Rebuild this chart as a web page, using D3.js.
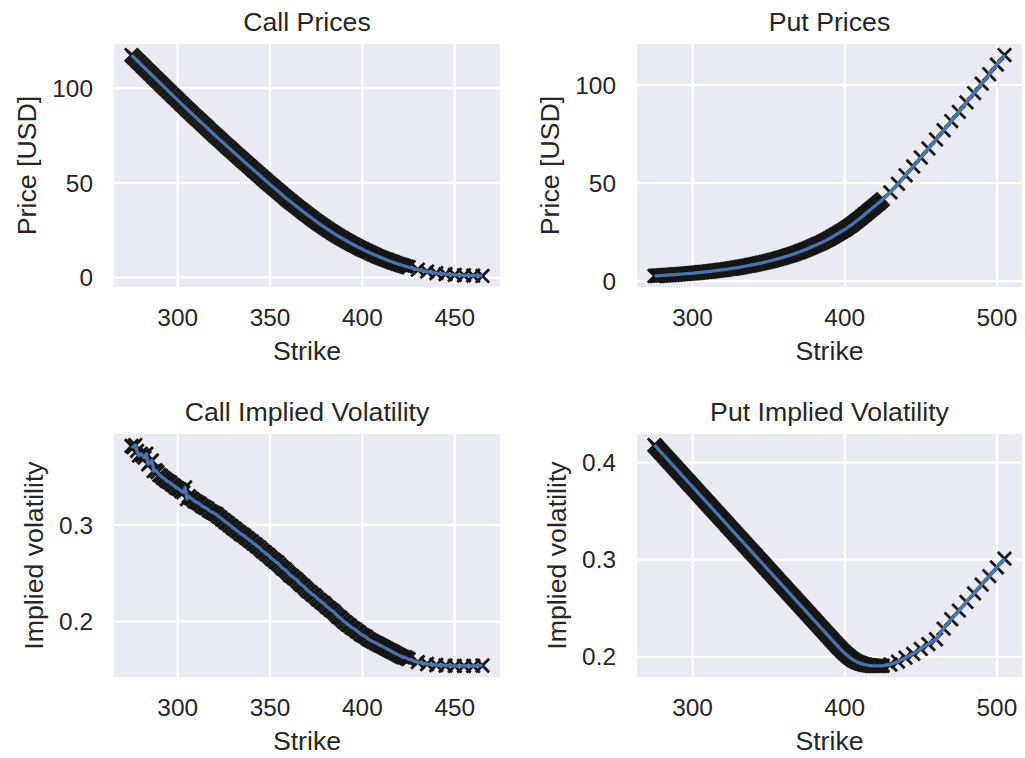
<!DOCTYPE html>
<html>
<head>
<meta charset="utf-8">
<script src="https://cdn.jsdelivr.net/npm/d3@7"></script>
<style>
  body { margin: 0; background: #fff; }
  text { font-family: "Liberation Sans", Arial, sans-serif; fill: #262626; }
</style>
</head>
<body>
<svg id="chart"></svg>
<script>
const width = 1025;
const height = 758;

// strikes: dense every 1 up to 425, then every 5
const denseStrikes = [
  275,276,277,278,279,280,281,282,283,284,285,286,287,288,289,290,291,292,293,294,
  295,296,297,298,299,300,301,302,303,304,305,306,307,308,309,310,311,312,313,314,
  315,316,317,318,319,320,321,322,323,324,325,326,327,328,329,330,331,332,333,334,
  335,336,337,338,339,340,341,342,343,344,345,346,347,348,349,350,351,352,353,354,
  355,356,357,358,359,360,361,362,363,364,365,366,367,368,369,370,371,372,373,374,
  375,376,377,378,379,380,381,382,383,384,385,386,387,388,389,390,391,392,393,394,
  395,396,397,398,399,400,401,402,403,404,405,406,407,408,409,410,411,412,413,414,
  415,416,417,418,419,420,421,422,423,424,425];
const callTailStrikes = [430,435,440,445,450,455,460,465];
const putTailStrikes = [430,435,440,445,450,455,460,465,470,475,480,485,490,495,500,505];

const callStrikes = denseStrikes.concat(callTailStrikes);
const putStrikes = denseStrikes.concat(putTailStrikes);

// call prices [USD]
const callPrice = [
  117.5,116.5,115.6,114.6,113.7, 112.7,111.7,110.8,109.8,108.9,
  107.9,107.0,106.0,105.1,104.1, 103.2,102.2,101.3,100.3,99.4,
  98.4,97.5,96.5,95.6,94.6, 93.7,92.8,91.8,90.9,89.9,
  89.0,88.1,87.2,86.2,85.3, 84.4,83.5,82.6,81.7,80.8,
  79.9,79.0,78.0,77.1,76.2, 75.3,74.4,73.5,72.7,71.8,
  70.9,70.0,69.1,68.3,67.4, 66.5,65.6,64.7,63.9,63.0,
  62.1,61.2,60.4,59.5,58.7, 57.8,56.9,56.1,55.2,54.4,
  53.5,52.6,51.8,50.9,50.1, 49.2,48.4,47.6,46.7,45.9,
  45.1,44.3,43.4,42.6,41.8, 41.0,40.2,39.4,38.7,37.9,
  37.1,36.3,35.6,34.8,34.1, 33.3,32.6,31.9,31.1,30.4,
  29.7,29.0,28.3,27.6,27.0, 26.3,25.7,25.0,24.4,23.7,
  23.1,22.5,21.9,21.3,20.8, 20.2,19.7,19.1,18.6,18.0,
  17.5,17.0,16.5,16.0,15.5, 15.0,14.5,14.1,13.6,13.2,
  12.7,12.3,11.9,11.4,11.0, 10.6,10.2,9.8,9.5,9.1,
  8.7,8.4,8.0,7.7,7.3, 7.0,6.7,6.4,6.1,5.8,
  5.5,
  4.2,3.2,2.4,1.9,1.5,1.25,1.05,0.9];

// put prices [USD]
const putPrice = [
  2.6,2.65,2.7,2.75,2.8, 2.85,2.9,2.95,3.0,3.05,
  3.1,3.16,3.22,3.28,3.34, 3.4,3.46,3.52,3.58,3.64,
  3.7,3.76,3.82,3.88,3.94, 4.0,4.08,4.16,4.24,4.32,
  4.4,4.48,4.56,4.64,4.72, 4.8,4.89,4.98,5.07,5.16,
  5.25,5.35,5.45,5.55,5.65, 5.75,5.86,5.97,6.08,6.19,
  6.3,6.42,6.54,6.66,6.78, 6.9,7.04,7.18,7.32,7.46,
  7.6,7.75,7.9,8.05,8.2, 8.35,8.52,8.69,8.86,9.03,
  9.2,9.38,9.56,9.74,9.92, 10.1,10.3,10.5,10.7,10.9,
  11.1,11.32,11.54,11.76,11.98, 12.2,12.44,12.68,12.92,13.16,
  13.4,13.68,13.96,14.24,14.52, 14.8,15.1,15.4,15.7,16.0,
  16.3,16.64,16.98,17.32,17.66, 18.0,18.34,18.68,19.02,19.36,
  19.7,20.1,20.5,20.9,21.3, 21.7,22.16,22.62,23.08,23.54,
  24.0,24.46,24.92,25.38,25.84, 26.3,26.84,27.38,27.92,28.46,
  29.0,29.6,30.2,30.8,31.4, 32.0,32.64,33.28,33.92,34.56,
  35.2,35.84,36.48,37.12,37.76, 38.4,39.06,39.72,40.38,41.04,
  41.7,
  45.3,49.6,54.0,58.5,63.1,67.7,72.3,77.0,81.7,86.4,91.2,96.0,100.8,105.6,110.5,115.4];

// call implied volatility
const callIV = [
  0.382,0.381,0.383,0.377,0.372, 0.374,0.372,0.370,0.374,0.363,
  0.365,0.367,0.356,0.357,0.355, 0.352,0.351,0.349,0.348,0.346,
  0.345,0.344,0.342,0.341,0.339, 0.338,0.337,0.335,0.334,0.339,
  0.327,0.330,0.328,0.327,0.325, 0.324,0.323,0.322,0.320,0.319,
  0.318,0.317,0.315,0.314,0.313, 0.312,0.311,0.309,0.308,0.306,
  0.305,0.303,0.302,0.300,0.299, 0.297,0.296,0.294,0.293,0.291,
  0.290,0.289,0.287,0.286,0.284, 0.283,0.281,0.280,0.278,0.277,
  0.275,0.273,0.272,0.270,0.269, 0.267,0.265,0.264,0.262,0.261,
  0.259,0.257,0.255,0.254,0.252, 0.250,0.248,0.247,0.245,0.244,
  0.242,0.240,0.238,0.237,0.235, 0.233,0.231,0.230,0.228,0.227,
  0.225,0.223,0.222,0.220,0.219, 0.217,0.215,0.214,0.212,0.211,
  0.209,0.207,0.205,0.204,0.202, 0.200,0.199,0.197,0.196,0.194,
  0.193,0.192,0.190,0.189,0.187, 0.186,0.185,0.184,0.182,0.181,
  0.180,0.179,0.178,0.177,0.176, 0.175,0.174,0.173,0.172,0.171,
  0.170,0.169,0.168,0.167,0.166, 0.165,0.164,0.163,0.163,0.162,
  0.161,
  0.158,0.156,0.155,0.1545,0.154,0.154,0.154,0.1545];

// put implied volatility
const putIV = [
  0.4180,0.4163,0.4146,0.4128,0.4111, 0.4094,0.4077,0.4060,0.4042,0.4025,
  0.4008,0.3991,0.3974,0.3956,0.3939, 0.3922,0.3905,0.3888,0.3870,0.3853,
  0.3836,0.3819,0.3802,0.3784,0.3767, 0.3750,0.3733,0.3716,0.3698,0.3681,
  0.3664,0.3647,0.3630,0.3612,0.3595, 0.3578,0.3561,0.3544,0.3526,0.3509,
  0.3492,0.3475,0.3458,0.3440,0.3423, 0.3406,0.3389,0.3372,0.3354,0.3337,
  0.3320,0.3303,0.3286,0.3268,0.3251, 0.3234,0.3217,0.3200,0.3182,0.3165,
  0.3148,0.3131,0.3114,0.3096,0.3079, 0.3062,0.3045,0.3028,0.3010,0.2993,
  0.2976,0.2959,0.2942,0.2924,0.2907, 0.2890,0.2873,0.2856,0.2838,0.2821,
  0.2804,0.2787,0.2770,0.2752,0.2735, 0.2718,0.2701,0.2684,0.2666,0.2649,
  0.2632,0.2615,0.2598,0.2580,0.2563, 0.2546,0.2529,0.2512,0.2494,0.2477,
  0.2460,0.2443,0.2426,0.2408,0.2391, 0.2374,0.2357,0.2340,0.2322,0.2305,
  0.2288,0.2271,0.2254,0.2236,0.2219, 0.2202,0.2185,0.2168,0.2150,0.2133,
  0.2116,0.2100,0.2084,0.2068,0.2053, 0.2038,0.2024,0.2010,0.1997,0.1985,
  0.1974,0.1964,0.1955,0.1947,0.1940, 0.1934,0.1929,0.1924,0.1920,0.1917,
  0.1914,0.1911,0.1909,0.1907,0.1906, 0.1905,0.1905,0.1905,0.1906,0.1907,
  0.1909,
  0.192,0.195,0.199,0.203,0.208,0.213,0.218,0.229,0.2386,0.2475,0.2564,0.2653,0.2742,0.283,0.292,0.301];

// tick labels
const priceTicks = [0, 50, 100];
const ivTicksCall = [0.2, 0.3];
const ivTicksPut = [0.2, 0.3, 0.4];
const callXTicks = [300, 350, 400, 450];
const putXTicks = [300, 400, 500];

const svg = d3.select("#chart")
    .attr("width", width)
    .attr("height", height);

const panels = [
  {title: "Call Prices", ylabel: "Price [USD]", xs: callStrikes, ys: callPrice,
   left: 114, top: 44, right: 500, bottom: 287, xticks: callXTicks, yticks: priceTicks, fmt: d3.format("d")},
  {title: "Put Prices", ylabel: "Price [USD]", xs: putStrikes, ys: putPrice,
   left: 637, top: 44, right: 1022, bottom: 287, xticks: putXTicks, yticks: priceTicks, fmt: d3.format("d")},
  {title: "Call Implied Volatility", ylabel: "Implied volatility", xs: callStrikes, ys: callIV,
   left: 114, top: 434, right: 500, bottom: 677, xticks: callXTicks, yticks: ivTicksCall, fmt: d3.format(".1f")},
  {title: "Put Implied Volatility", ylabel: "Implied volatility", xs: putStrikes, ys: putIV,
   left: 637, top: 434, right: 1022, bottom: 677, xticks: putXTicks, yticks: ivTicksPut, fmt: d3.format(".1f")}
];

// matplotlib style 5% margins
function padded(vals) {
  const [lo, hi] = d3.extent(vals);
  const m = (hi - lo) * 0.05;
  return [lo - m, hi + m];
}

const half = 6.67;
const crossPath = `M${-half},${-half}L${half},${half}M${-half},${half}L${half},${-half}`;

panels.forEach((p, i) => {
  const x = d3.scaleLinear().domain(padded(p.xs)).range([p.left, p.right]);
  const y = d3.scaleLinear().domain(padded(p.ys)).range([p.bottom, p.top]);
  const g = svg.append("g");

  g.append("rect")
    .attr("x", p.left).attr("y", p.top)
    .attr("width", p.right - p.left).attr("height", p.bottom - p.top)
    .attr("fill", "#EAEAF2");

  // grid
  g.selectAll("line.gx").data(p.xticks).join("line")
    .attr("class", "gx")
    .attr("x1", d => x(d)).attr("x2", d => x(d))
    .attr("y1", p.top).attr("y2", p.bottom)
    .attr("stroke", "#fff").attr("stroke-width", 2.2);
  g.selectAll("line.gy").data(p.yticks).join("line")
    .attr("class", "gy")
    .attr("x1", p.left).attr("x2", p.right)
    .attr("y1", d => y(d)).attr("y2", d => y(d))
    .attr("stroke", "#fff").attr("stroke-width", 2.2);

  svg.append("clipPath").attr("id", "clip" + i)
    .append("rect")
    .attr("x", p.left).attr("y", p.top)
    .attr("width", p.right - p.left).attr("height", p.bottom - p.top);

  const pts = p.xs.map((v, j) => [v, p.ys[j]]);
  const plot = g.append("g").attr("clip-path", `url(#clip${i})`);

  // black x markers, blue line on top
  plot.selectAll("path.mk").data(pts).join("path")
    .attr("class", "mk")
    .attr("d", crossPath)
    .attr("transform", d => `translate(${x(d[0])},${y(d[1])})`)
    .attr("stroke", "#161616")
    .attr("stroke-width", 2.8)
    .attr("fill", "none");

  plot.append("path")
    .datum(pts)
    .attr("d", d3.line().x(d => x(d[0])).y(d => y(d[1])))
    .attr("fill", "none")
    .attr("stroke", "#4C72B0")
    .attr("stroke-width", 3.3)
    .attr("stroke-linejoin", "round");

  // tick labels
  g.selectAll("text.xt").data(p.xticks).join("text")
    .attr("class", "xt")
    .attr("x", d => x(d)).attr("y", p.bottom + 39)
    .attr("text-anchor", "middle")
    .style("font-size", "24.4px")
    .text(d => d);

  const yt = g.selectAll("text.yt").data(p.yticks).join("text")
    .attr("class", "yt")
    .attr("x", p.left - 21).attr("y", d => y(d) + 8.6)
    .attr("text-anchor", "end")
    .style("font-size", "24.4px")
    .text(p.fmt);

  let maxW = 0;
  yt.each(function() { maxW = Math.max(maxW, this.getComputedTextLength()); });

  // labels and title
  g.append("text")
    .attr("x", (p.left + p.right) / 2).attr("y", p.top - 13.3)
    .attr("text-anchor", "middle")
    .style("font-size", "26.7px")
    .text(p.title);

  g.append("text")
    .attr("x", (p.left + p.right) / 2).attr("y", p.bottom + 73)
    .attr("text-anchor", "middle")
    .style("font-size", "26.7px")
    .text("Strike");

  const lx = p.left - 21 - maxW - 8.9 - 7.5;
  const ly = (p.top + p.bottom) / 2;
  g.append("text")
    .attr("transform", `translate(${lx},${ly}) rotate(-90)`)
    .attr("text-anchor", "middle")
    .style("font-size", "26.7px")
    .text(p.ylabel);
});
</script>
</body>
</html>
